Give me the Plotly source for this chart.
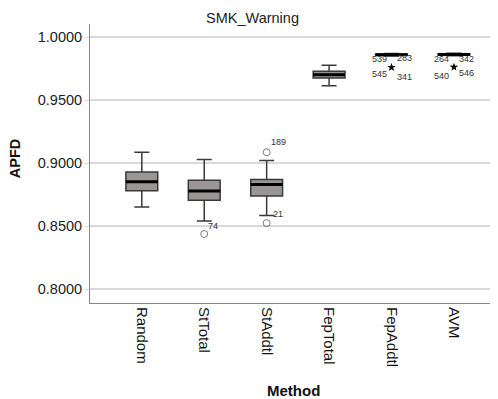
import plotly.graph_objects as go

methods = ["Random", "StTotal", "StAddtl", "FepTotal", "FepAddtl", "AVM"]
lower = [0.8651, 0.8540, 0.8584, 0.9616, 0.9852, 0.9854]
q1 = [0.8780, 0.8706, 0.8740, 0.9677, 0.9857, 0.9859]
median = [0.8852, 0.8778, 0.8830, 0.9703, 0.9862, 0.9864]
q3 = [0.8929, 0.8865, 0.8870, 0.9730, 0.9868, 0.9870]
upper = [0.9087, 0.9029, 0.9021, 0.9778, 0.9872, 0.9873]

# mild outliers (circles): method index, value, case label
mild_idx = [1, 2, 2, 4, 4, 5, 5]
mild_val = [0.8437, 0.9087, 0.8524, 0.9852, 0.9852, 0.9854, 0.9854]
mild_lab = ["74", "189", "21", "539", "283", "264", "342"]
mild_size = [7, 7, 7, 0, 0, 0, 0]

# extreme outliers (stars)
ext_idx = [4, 4, 5, 5]
ext_val = [0.9762, 0.9762, 0.9763, 0.9763]
ext_lab = ["545", "341", "540", "546"]

# label placement styles (anchor, xshift, yshift)
mild_style = [("left", 2, 8), ("left", 2, 10), ("left", 4, 9),
              ("right", -3, -3), ("left", 3, -2), ("right", -3, -3), ("left", 3, -3)]
ext_style = [("right", -3, -7), ("left", 3, -10), ("right", -3, -9), ("left", 3, -6)]

BOX_W = 0.51
xs = list(range(len(methods)))

fig = go.Figure()
fig.add_trace(go.Box(
    x=xs, q1=q1, median=median, q3=q3, lowerfence=lower, upperfence=upper,
    width=BOX_W, whiskerwidth=0.47, fillcolor="#9a9696",
    line=dict(color="#3a3a3a", width=1.5), boxpoints=False, showlegend=False,
))
mx, my = [], []
for i, m in zip(xs, median):
    mx += [i - BOX_W / 2, i + BOX_W / 2, None]
    my += [m, m, None]
fig.add_trace(go.Scatter(x=mx, y=my, mode="lines", line=dict(color="#000", width=3),
                         showlegend=False, hoverinfo="skip"))

fig.add_trace(go.Scatter(
    x=mild_idx, y=mild_val, mode="markers",
    marker=dict(symbol="circle-open", size=mild_size, color="#444", line=dict(width=1)),
    showlegend=False, cliponaxis=False,
))
fig.add_trace(go.Scatter(
    x=ext_idx, y=ext_val, mode="markers",
    marker=dict(symbol="star", size=6, color="#111"),
    showlegend=False, cliponaxis=False,
))

anns = [
    dict(text="SMK_Warning", x=0.40, y=1.022, xref="paper", yref="paper",
         showarrow=False, font=dict(size=14.5, color="#222"), xanchor="center", yanchor="middle"),
    dict(text="<b>APFD</b>", x=-0.184, y=0.516, xref="paper", yref="paper",
         showarrow=False, textangle=-90, font=dict(size=14.5, color="#111"),
         xanchor="center", yanchor="middle"),
    dict(text="<b>Method</b>", x=0.5, y=-0.312, xref="paper", yref="paper",
         showarrow=False, font=dict(size=15, color="#111"), xanchor="center", yanchor="middle"),
]
for (i, v, lab), (anc, dx, dy) in zip(zip(mild_idx + ext_idx, mild_val + ext_val, mild_lab + ext_lab),
                                      mild_style + ext_style):
    anns.append(dict(text=lab, x=i, y=v, xref="x", yref="y", showarrow=False,
                     xanchor=anc, yanchor="middle", xshift=dx, yshift=dy,
                     font=dict(size=9, color="#333")))

fig.update_layout(
    width=490, height=391,
    margin=dict(l=82, r=1, t=16, b=96),
    plot_bgcolor="white", paper_bgcolor="white",
    font=dict(family="Liberation Sans", color="#222", size=13),
    showlegend=False,
    annotations=anns,
)
fig.update_xaxes(
    range=[-0.83, 5.69], tickvals=xs, ticktext=methods, tickangle=90, automargin=False,
    showgrid=False, showline=True, linecolor="#888", linewidth=1, zeroline=False,
    ticks="", tickfont=dict(size=15, color="#111"),
)
fig.update_yaxes(
    range=[0.7889, 1.0106], tickvals=[0.80, 0.85, 0.90, 0.95, 1.00], tickformat=".4f",
    automargin=False,
    showgrid=True, gridcolor="#d9d9d9", gridwidth=1.5, showline=True, linecolor="#888",
    zeroline=False, ticks="outside", ticklen=4, tickcolor="#d9d9d9",
    tickfont=dict(size=14.5, color="#222"),
)
fig.write_html("out.html")
